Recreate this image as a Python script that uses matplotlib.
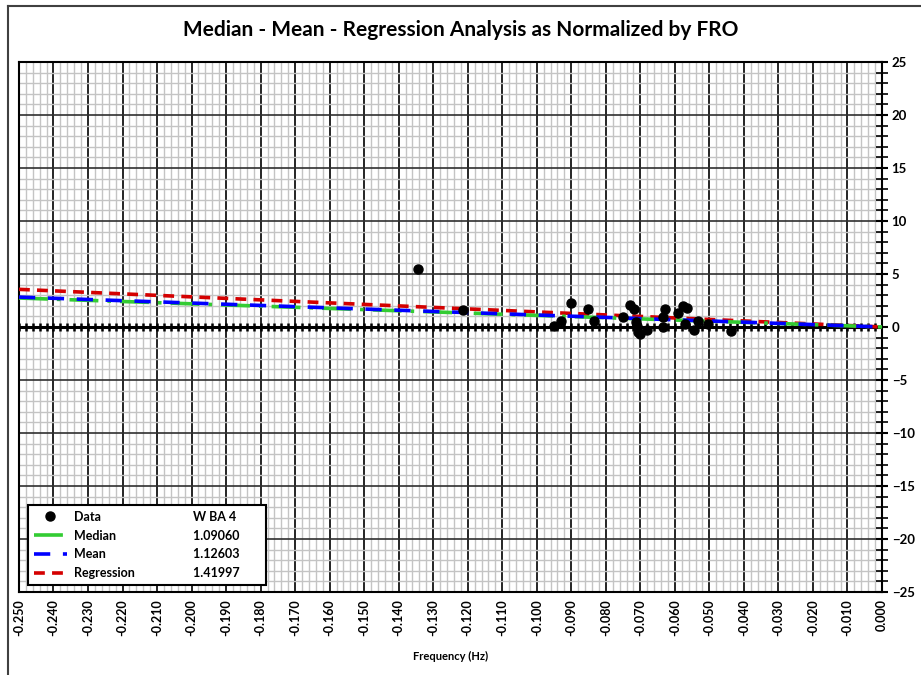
"""Median - Mean - Regression chart, normalized by FRO."""
import numpy as np
import matplotlib
matplotlib.use('Agg')
import matplotlib.pyplot as plt
from matplotlib.ticker import MultipleLocator, FormatStrFormatter
from matplotlib.lines import Line2D

plt.rcParams['font.family'] = ['Lato', 'DejaVu Sans']
plt.rcParams['font.weight'] = 'bold'

# data
freq = [-0.1345, -0.1214, -0.0950, -0.0931, -0.0900, -0.0852, -0.0835,
        -0.0750, -0.0731, -0.0719, -0.0712, -0.0710, -0.0707, -0.0700,
        -0.0680, -0.0635, -0.0628, -0.0633, -0.0592, -0.0577, -0.0566,
        -0.0571, -0.0544, -0.0532, -0.0505, -0.0438]
value = [5.44, 1.58, 0.08, 0.57, 2.24, 1.67, 0.57,
         0.97, 2.05, 1.67, 0.50, 0.05, -0.50, -0.62,
         -0.25, 0.90, 1.70, 0.03, 1.29, 1.98, 1.76,
         0.25, -0.33, 0.60, 0.24, -0.42]

line_x = [-0.25, 0.0]
median_y = [2.73, 0.0]
mean_y = [2.82, 0.0]
regr_y = [3.55, 0.0]

series_names = ['Data', 'Median', 'Mean', 'Regression']
series_values = ['W BA 4', '1.09060', '1.12603', '1.41997']

fig = plt.figure(figsize=(9.21, 6.75), dpi=100)
ax = fig.add_axes([0.0206, 0.1230, 0.9370, 0.7852])

ax.set_xlim(-0.25, 0.0)
ax.set_ylim(-25, 25)

# grid
ax.xaxis.set_major_locator(MultipleLocator(0.01))
ax.xaxis.set_minor_locator(MultipleLocator(0.002))
ax.yaxis.set_major_locator(MultipleLocator(5))
ax.yaxis.set_minor_locator(MultipleLocator(1))
ax.grid(which='minor', color='#c4c4c4', lw=1.0)
ax.grid(which='major', axis='x', color='black', lw=1.2)
ax.grid(which='major', axis='y', color='#303030', lw=1.2)
ax.set_axisbelow(True)

# zero axis with crossing ticks
ax.axhline(0, color='black', lw=2.2, zorder=2)
minor_x = np.arange(-0.25, 0.0005, 0.002)
ax.vlines(minor_x, -0.35, 0.35, color='black', lw=1.8, zorder=2)

# lines
ax.plot(line_x, regr_y, color='#d40000', lw=2.6, dashes=(3, 2), zorder=3,
        label='Regression')
ax.plot(line_x, median_y, color='#33cc33', lw=2.6, dashes=(8, 2.5, 1, 2.5),
        zorder=3, label='Median')
ax.plot(line_x, mean_y, color='#0000ff', lw=2.6, dashes=(4.5, 3.5), zorder=3,
        label='Mean')
ax.plot(freq, value, 'o', color='black', ms=6.5, zorder=4, label='Data')

# axes styling
for sp in ax.spines.values():
    sp.set_linewidth(1.5)
ax.yaxis.tick_right()
ax.tick_params(axis='y', which='major', direction='inout', length=8,
               width=1.5, labelsize=9.5, pad=3)
ax.tick_params(axis='y', which='minor', direction='inout', length=8,
               width=1.2)
ax.tick_params(axis='x', which='both', length=0, labelsize=9, pad=5)
ax.xaxis.set_major_formatter(FormatStrFormatter('%.3f'))
for lab in ax.get_xticklabels():
    lab.set_rotation(90)
    lab.set_fontweight('bold')
for lab in ax.get_yticklabels():
    lab.set_fontweight('bold')
ax.set_xlabel('Frequency (Hz)', fontsize=8, fontweight='bold', labelpad=11)

fig.text(0.5, 1 - 30 / 675,
         'Median - Mean - Regression Analysis as Normalized by FRO',
         fontsize=15, fontweight='bold', ha='center', va='center')

# legend: names column + values column
h = {l.get_label(): l for l in ax.get_lines() if l.get_label() in series_names}
blank = [Line2D([], [], color='none') for _ in series_values]
handles = [h[n] for n in series_names] + blank
labels = series_names + [v + ' ' * 7 for v in series_values]
leg = ax.legend(handles, labels, ncol=2, loc='lower left',
                bbox_to_anchor=(0.0104, 0.0132), borderaxespad=0,
                fontsize=9, handlelength=2.7, handletextpad=0.5,
                columnspacing=1.5, labelspacing=0.55, borderpad=0.45,
                fancybox=False, framealpha=1, edgecolor='black',
                markerscale=1.0)
leg.get_frame().set_linewidth(1.5)
for t in leg.get_texts():
    t.set_fontweight('bold')

# outer chart border
fig.add_artist(Line2D([0.009, 0.009], [0.0, 0.991], color='#404040', lw=1.5,
                      transform=fig.transFigure))
fig.add_artist(Line2D([0.009, 1.0], [0.991, 0.991], color='#404040', lw=1.5,
                      transform=fig.transFigure))

fig.savefig('out.png', dpi=100)
